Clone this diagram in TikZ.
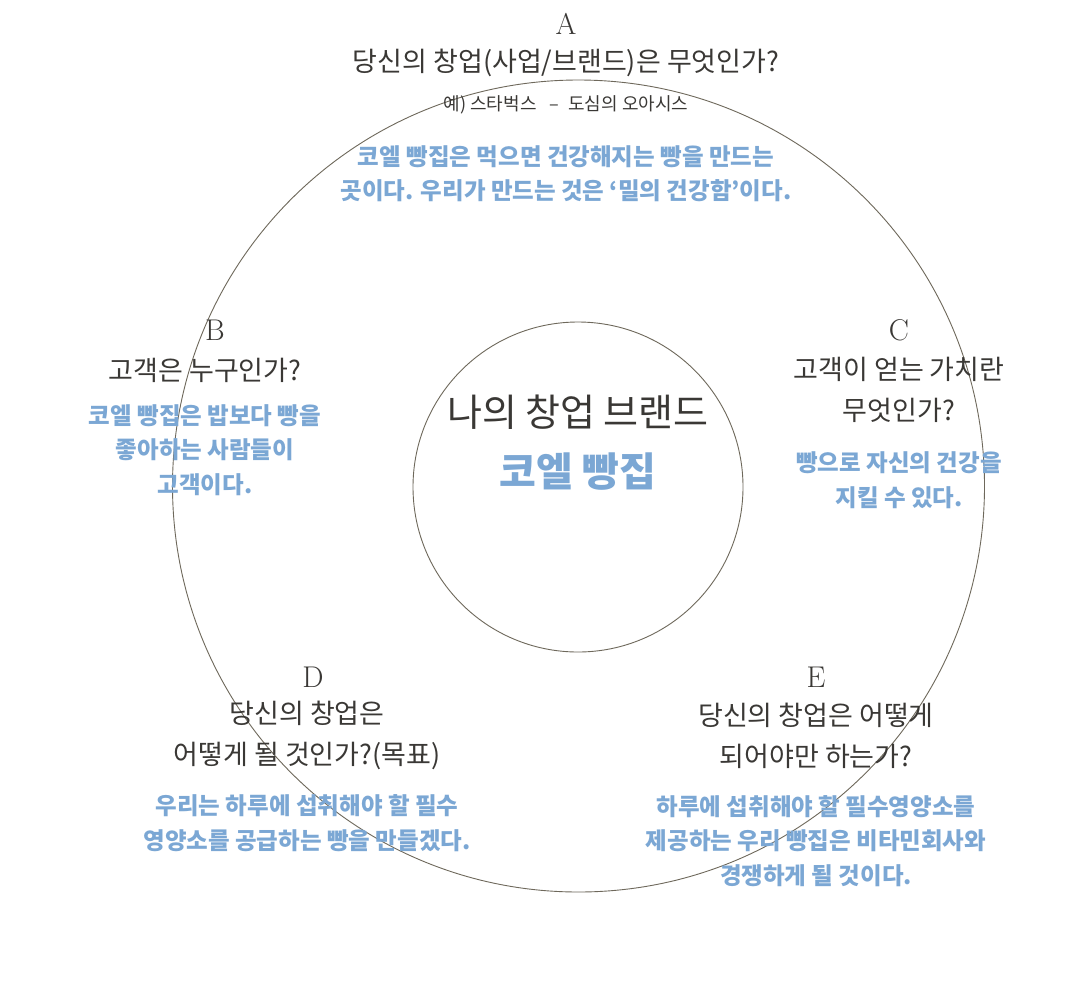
\documentclass[tikz,border=0pt]{standalone}
\usepackage{fontspec}
\newfontfamily\kr{Noto Sans CJK KR}
\definecolor{ink}{HTML}{3A3835}
\definecolor{hand}{HTML}{7BA7D4}
\definecolor{ring}{HTML}{6E685B}
\tikzset{
  x=1pt,y=-1pt,
  ringline/.style={draw=ring,line width=0.9pt},
  letter/.style={text=ink,font=\fontsize{30}{34}\selectfont,inner sep=0pt},
  question/.style={text=ink,align=center,inner sep=0pt,font=\kr\fontsize{27}{41}\selectfont},
  example/.style={text=ink,inner sep=0pt,font=\kr\fontsize{18}{20}\selectfont},
  answer/.style={text=hand,align=center,inner sep=0pt,font=\kr\bfseries\fontsize{23.5}{34.5}\selectfont},
}
\begin{document}
\begin{tikzpicture}
\useasboundingbox (0,0) rectangle (1076,994);
\fill[white] (0,0) rectangle (1076,994);
\node[ringline,circle,minimum size=812pt,inner sep=0pt] (outer) at (578.5,486) {};
\node[ringline,circle,minimum size=330pt,inner sep=0pt] (inner) at (578,487) {};
% center
\node[text=ink,inner sep=0pt,font=\kr\fontsize{38}{44}\selectfont] (brand) at (578,412) {나의 창업 브랜드};
\node[text=hand,inner sep=0pt,font=\kr\bfseries\fontsize{40}{44}\selectfont] (bakery) at (578,472) {코엘 빵집};
% A
\node[letter] (la) at (566,24) {A};
\node[question] (qa) at (566,63) {당신의 창업(사업/브랜드)은 무엇인가?};
\node[example] (ea) at (566,105) {예) 스타벅스 \enspace–\enspace 도심의 오아시스};
\node[answer] (aa) at (566,173.5) {코엘 빵집은 먹으면 건강해지는 빵을 만드는\\곳이다. 우리가 만드는 것은 ‘밀의 건강함’이다.};
% B
\node[letter] (lb) at (215,330) {B};
\node[question] (qb) at (205,370) {고객은 누구인가?};
\node[answer] (ab) at (205,450) {코엘 빵집은 밥보다 빵을\\좋아하는 사람들이\\고객이다.};
% C
\node[letter] (lc) at (899,330) {C};
\node[question] (qc) at (899,390) {고객이 얻는 가치란\\무엇인가?};
\node[answer] (ac) at (899,480) {빵으로 자신의 건강을\\지킬 수 있다.};
% D
\node[letter] (ld) at (313,677) {D};
\node[question] (qd) at (307,735.5) {당신의 창업은\\어떻게 될 것인가?(목표)};
\node[answer] (ad) at (307,823) {우리는 하루에 섭취해야 할 필수\\영양소를 공급하는 빵을 만들겠다.};
% E
\node[letter] (le) at (816,677) {E};
\node[question] (qe) at (816,736) {당신의 창업은 어떻게\\되어야만 하는가?};
\node[answer] (ae) at (816,841) {하루에 섭취해야 할 필수영양소를\\제공하는 우리 빵집은 비타민회사와\\경쟁하게 될 것이다.};
\end{tikzpicture}
\end{document}
